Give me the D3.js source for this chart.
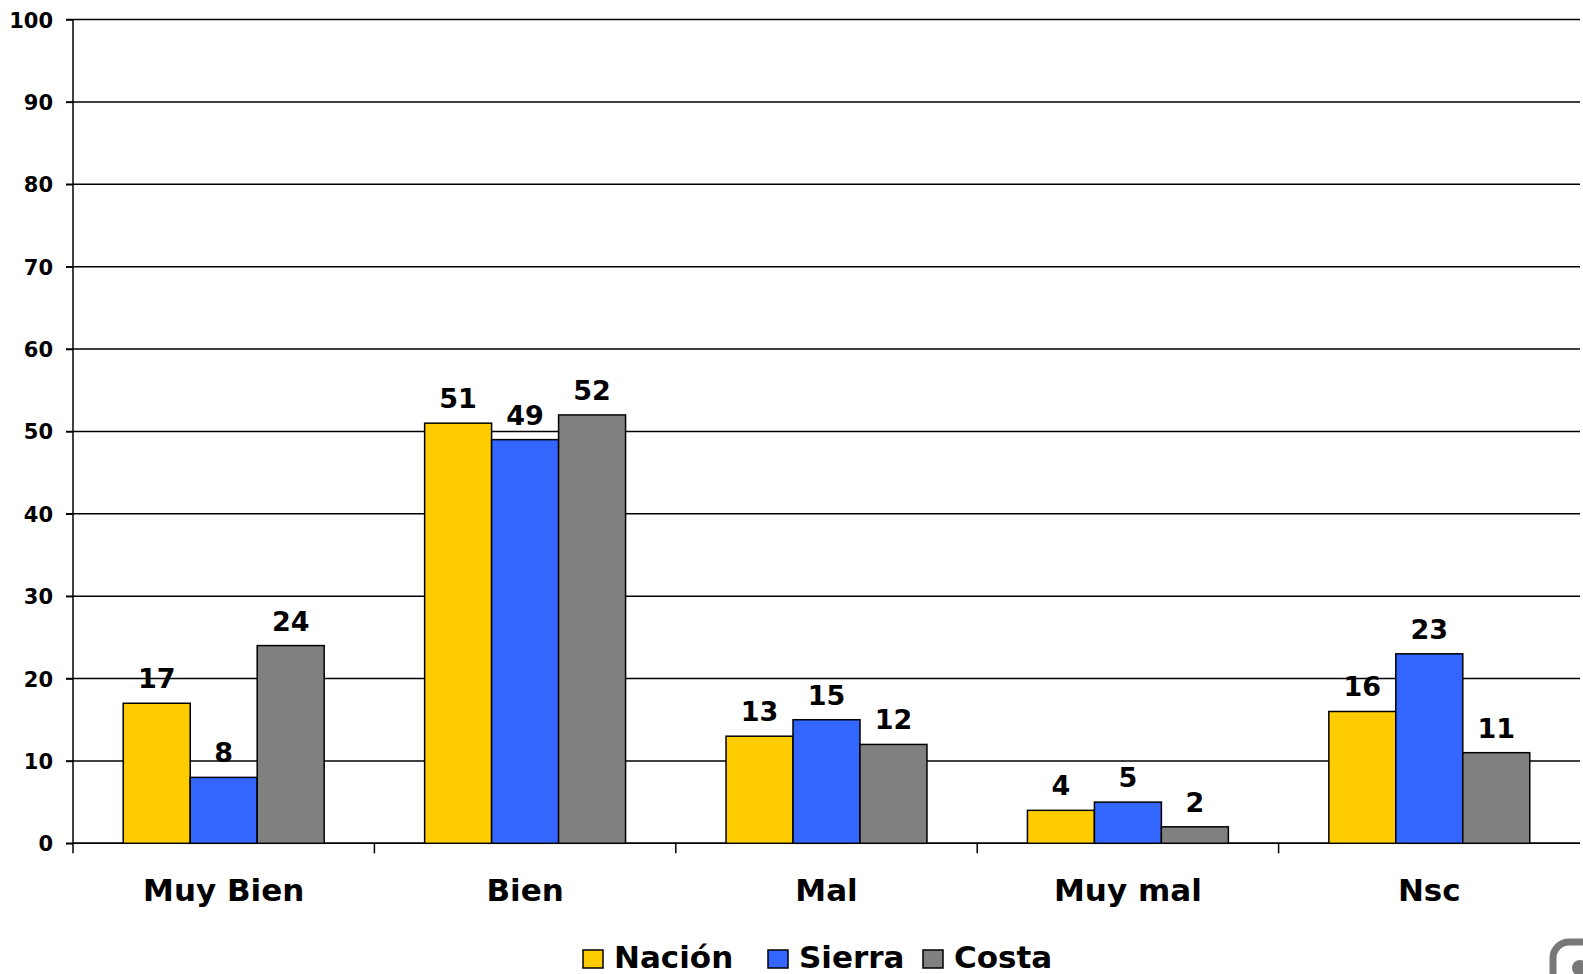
<!DOCTYPE html>
<html><head><meta charset="utf-8">
<script src="https://cdn.jsdelivr.net/npm/d3@7"></script>
<style>html,body{margin:0;padding:0;background:#fff;overflow:hidden}</style>
</head><body>
<svg id="chart" width="1583" height="974"></svg>
<script>
const categories = ["Muy Bien", "Bien", "Mal", "Muy mal", "Nsc"];
const seriesNames = ["Nación", "Sierra", "Costa"];
const nacion = [17, 51, 13, 4, 16];
const sierra = [8, 49, 15, 5, 23];
const costa = [24, 52, 12, 2, 11];
const yTicks = [0, 10, 20, 30, 40, 50, 60, 70, 80, 90, 100];
const colors = ["#FFCC00", "#3366FF", "#808080"];
const seriesValues = [nacion, sierra, costa];

(function () {
const svg = d3.select("#chart");
const font = "'DejaVu Sans', Verdana, sans-serif";
const pLeft = 73, pRight = 1580, pTop = 19.5, pBottom = 843.3;

const x = d3.scaleBand().domain(categories).range([pLeft, pRight]).paddingInner(0).paddingOuter(0);
const y = d3.scaleLinear().domain([0, 100]).range([pBottom, pTop]);
const xs = d3.scaleBand().domain(seriesNames).range([0, x.bandwidth()]).paddingOuter(0.75).paddingInner(0);

// gridlines
svg.append("g").selectAll("line").data(yTicks).join("line")
  .attr("x1", pLeft - 7).attr("x2", pRight)
  .attr("y1", d => y(d)).attr("y2", d => y(d))
  .attr("stroke", "#000").attr("stroke-width", 1.5);

// y axis
const yAxis = d3.axisLeft(y).tickValues(yTicks).tickSize(7).tickPadding(13);
const gy = svg.append("g").attr("transform", `translate(${pLeft},0)`).call(yAxis);
gy.select(".domain").attr("stroke", "#000").attr("stroke-width", 1.5).attr("d", `M0,${pTop}V${pBottom + 10}`);
gy.selectAll(".tick line").attr("stroke", "#000").attr("stroke-width", 1.5);
gy.selectAll(".tick text").attr("font-family", font).attr("font-weight", "bold")
  .attr("font-size", 21).attr("fill", "#000").attr("dy", "0.36em");

// x axis
const xAxis = d3.axisBottom(x).tickSize(0).tickPadding(0);
const gx = svg.append("g").attr("transform", `translate(0,${pBottom})`).call(xAxis);
gx.select(".domain").remove();
gx.selectAll(".tick text").attr("font-family", font).attr("font-weight", "bold")
  .attr("font-size", 31).attr("fill", "#000").attr("y", 58).attr("dy", 0);
const seps = categories.map(c => x(c)).concat([pRight]);
svg.append("g").selectAll("line").data(seps.slice(1, 5)).join("line")
  .attr("x1", d => d).attr("x2", d => d).attr("y1", pBottom).attr("y2", pBottom + 10)
  .attr("stroke", "#000").attr("stroke-width", 1.5);
svg.append("line").attr("x1", pLeft).attr("x2", pRight).attr("y1", pBottom).attr("y2", pBottom)
  .attr("stroke", "#000").attr("stroke-width", 1.5);

// bars
const data = [];
categories.forEach((c, i) => seriesNames.forEach((s, j) => data.push({c, s, j, v: seriesValues[j][i]})));
svg.append("g").selectAll("rect").data(data).join("rect")
  .attr("x", d => x(d.c) + xs(d.s))
  .attr("y", d => y(d.v))
  .attr("width", xs.bandwidth())
  .attr("height", d => y(0) - y(d.v))
  .attr("fill", d => colors[d.j])
  .attr("stroke", "#000").attr("stroke-width", 1.5);

// labels
svg.append("g").selectAll("text").data(data).join("text")
  .attr("x", d => x(d.c) + xs(d.s) + xs.bandwidth() / 2)
  .attr("y", d => y(d.v) - 15)
  .attr("text-anchor", "middle")
  .attr("font-family", font).attr("font-weight", "bold").attr("font-size", 27)
  .attr("fill", "#000")
  .text(d => d.v);

// legend
const legendX = [583, 768, 923];
const lg = svg.append("g");
seriesNames.forEach((s, j) => {
  lg.append("rect").attr("x", legendX[j]).attr("y", 950).attr("width", 20).attr("height", 18)
    .attr("fill", colors[j]).attr("stroke", "#000").attr("stroke-width", 1.5);
  lg.append("text").attr("x", legendX[j] + 31).attr("y", 968)
    .attr("font-family", font).attr("font-weight", "bold").attr("font-size", 31)
    .attr("fill", "#000").text(s);
});

// corner watermark fragment
svg.append("rect").attr("x", 1553).attr("y", 942).attr("width", 60).attr("height", 60).attr("rx", 16)
  .attr("fill", "none").attr("stroke", "#777").attr("stroke-width", 7);
svg.append("circle").attr("cx", 1580).attr("cy", 968).attr("r", 8).attr("fill", "#777");
})();
</script>
</body></html>
